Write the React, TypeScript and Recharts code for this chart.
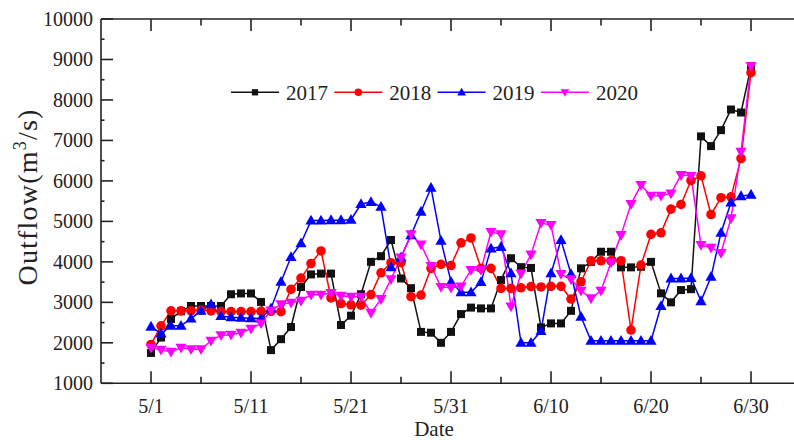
import React from 'react';
import { LineChart, Line, XAxis, YAxis, Legend } from 'recharts';

const FONT = "'Liberation Serif', 'Times New Roman', serif";

const dates = [
  '5/1', '5/2', '5/3', '5/4', '5/5', '5/6', '5/7', '5/8', '5/9', '5/10',
  '5/11', '5/12', '5/13', '5/14', '5/15', '5/16', '5/17', '5/18', '5/19', '5/20',
  '5/21', '5/22', '5/23', '5/24', '5/25', '5/26', '5/27', '5/28', '5/29', '5/30',
  '5/31', '6/1', '6/2', '6/3', '6/4', '6/5', '6/6', '6/7', '6/8', '6/9',
  '6/10', '6/11', '6/12', '6/13', '6/14', '6/15', '6/16', '6/17', '6/18', '6/19',
  '6/20', '6/21', '6/22', '6/23', '6/24', '6/25', '6/26', '6/27', '6/28', '6/29',
  '6/30',
];

const flow2017 = [
  1750, 2130, 2590, 2780, 2910, 2910, 2910, 2910, 3200, 3220,
  3220, 3010, 1820, 2090, 2390, 3380, 3690, 3710, 3710, 2440,
  2670, 3200, 4000, 4140, 4540, 3590, 3350, 2270, 2250, 2000,
  2270, 2710, 2870, 2850, 2850, 3550, 4090, 3870, 3850, 2380,
  2480, 2480, 2790, 3840, 4000, 4250, 4250, 3864, 3864, 3880,
  4000, 3222, 3000, 3303, 3325, 7100, 6860, 7254, 7764, 7690,
  8820,
];

const flow2018 = [
  1960, 2420, 2790, 2790, 2790, 2810, 2790, 2770, 2770, 2770,
  2770, 2780, 2780, 2770, 3320, 3600, 3960, 4270, 3110, 2970,
  2940, 2930, 3190, 3730, 3980, 3980, 3140, 3180, 3840, 3940,
  3910, 4470, 4590, 3840, 3840, 3345, 3345, 3360, 3390, 3380,
  3395, 3395, 3081, 3509, 4028, 4028, 4028, 4028, 2316, 3921,
  4678, 4718, 5303, 5418, 6010, 6126, 5170, 5585, 5605, 6554,
  8675,
];

const flow2019 = [
  2400, 2230, 2420, 2420, 2600, 2790, 2950, 2660, 2630, 2620,
  2610, 2600, 2850, 3510, 4120, 4460, 5020, 5020, 5030, 5030,
  5040, 5430, 5480, 5360, 3870, 4110, 4660, 5240, 5830, 4520,
  3510, 3250, 3250, 3500, 4330, 4370, 3716, 2000, 2000, 2290,
  3716, 4538, 3699, 2645, 2052, 2052, 2052, 2052, 2052, 2052,
  2052, 2909, 3592, 3592, 3600, 3030, 3630, 4720, 5465, 5624,
  5660,
];

const flow2020 = [
  1880, 1830, 1780, 1880, 1840, 1840, 2050, 2190, 2200, 2250,
  2350, 2480, 2800, 2950, 2990, 3040, 3190, 3190, 3230, 3160,
  3140, 3140, 2740, 3080, 3570, 4110, 4680, 4430, 3900, 3380,
  3360, 3390, 3800, 3800, 4740, 4680, 2900, 3710, 4180, 4960,
  4910, 3699, 3568, 3286, 3099, 3286, 3987, 4661, 5427, 5896,
  5632, 5632, 5691, 6143, 6120, 4415, 4351, 4220, 5075, 6718,
  8840,
];

const seriesNames = ['2017', '2018', '2019', '2020'];
const seriesKeys = ['y2017', 'y2018', 'y2019', 'y2020'];
const seriesColors = ['#111111', '#ff0000', '#0000ff', '#ff00ff'];
const seriesMarkers = ['square', 'circle', 'triangle', 'invtriangle'];

const xMajorTicks = [0, 10, 20, 30, 40, 50, 60];
const xTickLabels = ['5/1', '5/11', '5/21', '5/31', '6/10', '6/20', '6/30'];
const xMinorTicks = [5, 15, 25, 35, 45, 55];
const yMajorTicks = [1000, 2000, 3000, 4000, 5000, 6000, 7000, 8000, 9000, 10000];
const yMinorTicks = [1500, 2500, 3500, 4500, 5500, 6500, 7500, 8500, 9500];

const xTicks = [...xMajorTicks, ...xMinorTicks].sort((a, b) => a - b);
const yTicks = [...yMajorTicks, ...yMinorTicks].sort((a, b) => a - b);

const rows = dates.map((date, i) => ({
  day: i,
  date,
  y2017: flow2017[i],
  y2018: flow2018[i],
  y2019: flow2019[i],
  y2020: flow2020[i],
}));

function Marker({ kind, cx, cy, color, s = 1 }: any) {
  if (cx == null || cy == null) return null;
  if (kind === 'square') {
    const h = 4 * s;
    return <rect x={cx - h} y={cy - h} width={2 * h} height={2 * h} fill={color} />;
  }
  if (kind === 'circle') {
    return <circle cx={cx} cy={cy} r={4.8 * s} fill={color} />;
  }
  if (kind === 'triangle') {
    const w = 5.6 * s;
    return (
      <polygon
        points={`${cx},${cy - 5.8 * s} ${cx - w},${cy + 4 * s} ${cx + w},${cy + 4 * s}`}
        fill={color}
      />
    );
  }
  const w = 5.6 * s;
  return (
    <polygon
      points={`${cx - w},${cy - 4 * s} ${cx + w},${cy - 4 * s} ${cx},${cy + 5.8 * s}`}
      fill={color}
    />
  );
}

const makeDot = (kind: string, color: string) => (props: any) => (
  <Marker key={`${kind}-${props.index}`} kind={kind} cx={props.cx} cy={props.cy} color={color} />
);

const isMajorX = (v: number) => xMajorTicks.indexOf(v) >= 0;
const isMajorY = (v: number) => yMajorTicks.indexOf(v) >= 0;

const BottomTick = (props: any) => {
  const { x, y, payload } = props;
  const v = payload.value;
  const major = isMajorX(v);
  return (
    <g>
      <line x1={x} x2={x} y1={y} y2={y - (major ? 12 : 6.5)} stroke="#222" strokeWidth={1.6} />
      {major && (
        <text x={x} y={y + 30} textAnchor="middle" fontSize={20} fontFamily={FONT} fill="#222">
          {xTickLabels[xMajorTicks.indexOf(v)]}
        </text>
      )}
    </g>
  );
};

const TopTick = (props: any) => {
  const { x, y, payload } = props;
  const major = isMajorX(payload.value);
  return <line x1={x} x2={x} y1={y} y2={y + (major ? 12 : 6.5)} stroke="#222" strokeWidth={1.6} />;
};

const LeftTick = (props: any) => {
  const { x, y, payload } = props;
  const v = payload.value;
  const major = isMajorY(v);
  return (
    <g>
      <line x1={x} x2={x + (major ? 12 : 3.5)} y1={y} y2={y} stroke="#222" strokeWidth={1.6} />
      {major && (
        <text x={x - 8} y={y + 7} textAnchor="end" fontSize={20} fontFamily={FONT} fill="#222">
          {String(v)}
        </text>
      )}
    </g>
  );
};

const RightTick = (props: any) => {
  const { x, y, payload } = props;
  const major = isMajorY(payload.value);
  return <line x1={x} x2={x - (major ? 12 : 3.5)} y1={y} y2={y} stroke="#222" strokeWidth={1.6} />;
};

const renderLegend = () => (
  <svg width={440} height={30} style={{ display: 'block' }}>
    {seriesNames.map((name, i) => {
      const x0 = i * 103.3;
      return (
        <g key={name}>
          <line x1={x0} x2={x0 + 48} y1={14.3} y2={14.3} stroke={seriesColors[i]} strokeWidth={1.5} />
          <Marker kind={seriesMarkers[i]} cx={x0 + 24} cy={14.3} color={seriesColors[i]} s={0.78} />
          <text x={x0 + 55} y={21.5} fontSize={21} fontFamily={FONT} fill="#222">
            {name}
          </text>
        </g>
      );
    })}
  </svg>
);

export default function App() {
  return (
    <div
      style={{
        position: 'absolute',
        left: 0,
        top: 0,
        width: 794,
        height: 440,
        overflow: 'hidden',
        background: '#fff',
        fontFamily: FONT,
      }}
    >
      <LineChart width={810} height={440} data={rows} margin={{ top: 0, right: 9, bottom: 0, left: 0 }}>
        <XAxis
          xAxisId="b"
          dataKey="day"
          type="number"
          domain={[-5, 65]}
          ticks={xTicks}
          interval={0}
          height={56.7}
          tickSize={0}
          tickMargin={0}
          tick={BottomTick}
          axisLine={{ stroke: '#222', strokeWidth: 1.6 }}
          allowDataOverflow
        />
        <XAxis
          xAxisId="t"
          dataKey="day"
          orientation="top"
          type="number"
          domain={[-5, 65]}
          ticks={xTicks}
          interval={0}
          height={19}
          tickSize={0}
          tickMargin={0}
          tick={TopTick}
          axisLine={{ stroke: '#222', strokeWidth: 1.6 }}
          allowDataOverflow
        />
        <YAxis
          yAxisId="l"
          type="number"
          domain={[1000, 10000]}
          ticks={yTicks}
          interval={0}
          width={101}
          tickSize={0}
          tickMargin={0}
          tick={LeftTick}
          axisLine={{ stroke: '#222', strokeWidth: 1.6 }}
          allowDataOverflow
        />
        <YAxis
          yAxisId="r"
          orientation="right"
          type="number"
          domain={[1000, 10000]}
          ticks={yTicks}
          interval={0}
          width={0}
          tickSize={0}
          tickMargin={0}
          tick={RightTick}
          axisLine={{ stroke: '#222', strokeWidth: 1.6 }}
          allowDataOverflow
        />
        {seriesKeys.map((k, i) => (
          <Line
            key={k}
            xAxisId="b"
            yAxisId="l"
            type="linear"
            dataKey={k}
            name={seriesNames[i]}
            stroke={seriesColors[i]}
            strokeWidth={1.5}
            dot={makeDot(seriesMarkers[i], seriesColors[i])}
            activeDot={false}
            isAnimationActive={false}
          />
        ))}
        <Legend
          layout="horizontal"
          verticalAlign="middle"
          align="center"
          content={renderLegend}
          wrapperStyle={{ left: 231, top: 78, width: 440, height: 30 }}
        />
        <text x={434} y={436} textAnchor="middle" fontSize={21} fontFamily={FONT} fill="#222">
          Date
        </text>
        <text
          transform="translate(37,197) rotate(-90)"
          textAnchor="middle"
          fontSize={28}
          letterSpacing={1.2}
          fontFamily={FONT}
          fill="#222"
        >
          <tspan>Outflow(m</tspan>
          <tspan dy={-11} fontSize={18}>3</tspan>
          <tspan dy={11}>/s)</tspan>
        </text>
      </LineChart>
    </div>
  );
}
